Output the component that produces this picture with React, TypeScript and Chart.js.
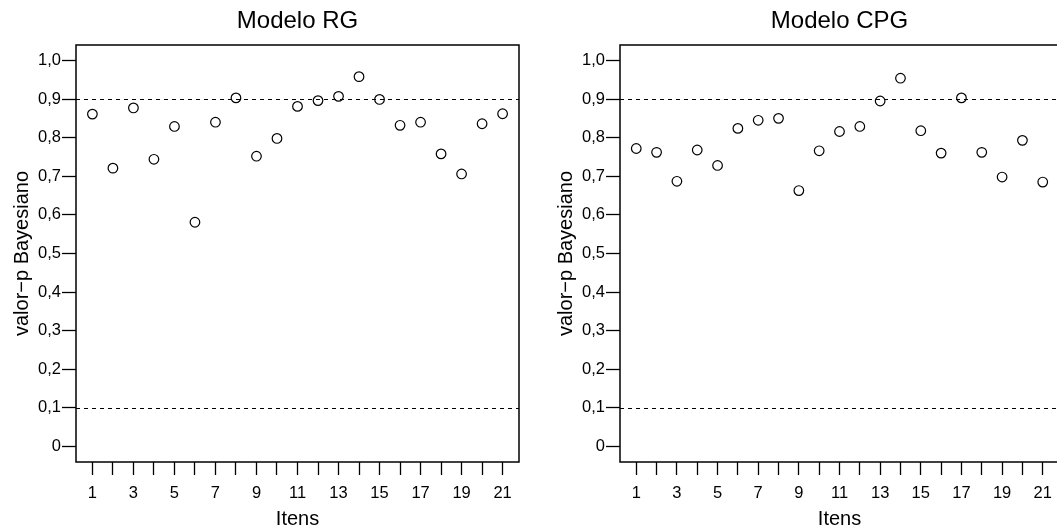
import { useEffect, useRef } from "react";
import { Chart, registerables } from "chart.js";

Chart.register(...registerables);

// Item numbers on the horizontal axis
const itens = [1, 2, 3, 4, 5, 6, 7, 8, 9, 10, 11, 12, 13, 14, 15, 16, 17, 18, 19, 20, 21];
const xTickLabels = ["1", "", "3", "", "5", "", "7", "", "9", "", "11", "", "13", "", "15", "", "17", "", "19", "", "21"];

// Vertical axis ticks (decimal comma)
const yTicks = [0, 0.1, 0.2, 0.3, 0.4, 0.5, 0.6, 0.7, 0.8, 0.9, 1.0];
const yTickLabels = ["0", "0,1", "0,2", "0,3", "0,4", "0,5", "0,6", "0,7", "0,8", "0,9", "1,0"];

// Bayesian p-values per item
const valoresRG = [0.861, 0.721, 0.877, 0.744, 0.829, 0.581, 0.840, 0.903, 0.752, 0.798, 0.881,
  0.896, 0.907, 0.958, 0.899, 0.832, 0.840, 0.758, 0.706, 0.836, 0.862];
const valoresCPG = [0.772, 0.762, 0.687, 0.768, 0.728, 0.824, 0.845, 0.850, 0.663, 0.766, 0.816,
  0.829, 0.895, 0.954, 0.818, 0.760, 0.903, 0.762, 0.698, 0.793, 0.685];

// Reference levels drawn as dashed lines
const limiares = [0.1, 0.9];

const titulos = ["Modelo RG", "Modelo CPG"];
const tituloX = "Itens";
const tituloY = "valor\u2212p Bayesiano";

const FONT = "'Liberation Sans', Arial, Helvetica, sans-serif";

// Frame, dashed reference lines and panel title
const moldura = {
  id: "moldura",
  beforeDatasetsDraw(chart: any) {
    const { ctx, chartArea: a, scales } = chart;
    const y = scales.y;
    ctx.save();
    ctx.beginPath();
    ctx.rect(a.left, a.top, a.right - a.left, a.bottom - a.top);
    ctx.clip();
    ctx.setLineDash([4, 4]);
    ctx.lineWidth = 1;
    ctx.strokeStyle = "#000";
    for (const v of limiares) {
      const py = Math.round(y.getPixelForValue(v)) + 0.5;
      ctx.beginPath();
      ctx.moveTo(a.left, py);
      ctx.lineTo(a.right, py);
      ctx.stroke();
    }
    ctx.restore();
  },
  afterDraw(chart: any, _args: any, opts: any) {
    const { ctx, chartArea: a } = chart;
    ctx.save();
    ctx.lineWidth = 1.5;
    ctx.strokeStyle = "#000";
    ctx.strokeRect(a.left, a.top, a.right - a.left, a.bottom - a.top);
    ctx.fillStyle = "#000";
    ctx.font = `24px ${FONT}`;
    ctx.textAlign = "center";
    ctx.textBaseline = "alphabetic";
    ctx.fillText(opts.titulo, (a.left + a.right) / 2, 28);
    ctx.restore();
  },
};

function Painel({ valores, titulo, left, padRight }: { valores: number[]; titulo: string; left: number; padRight: number }) {
  const ref = useRef<HTMLCanvasElement | null>(null);
  useEffect(() => {
    if (!ref.current) return;
    const chart = new Chart(ref.current, {
      type: "scatter",
      data: {
        datasets: [
          {
            data: valores.map((v, i) => ({ x: itens[i], y: v })),
            pointStyle: "circle",
            pointRadius: 4.8,
            pointHoverRadius: 4.8,
            borderWidth: 1.2,
            borderColor: "#000",
            backgroundColor: "rgba(255,255,255,0)",
          },
        ],
      },
      options: {
        responsive: false,
        animation: false,
        events: [],
        color: "#000",
        layout: { padding: { top: 45, left: 0, bottom: 0, right: padRight } },
        plugins: {
          legend: { display: false },
          tooltip: { enabled: false },
          // @ts-ignore
          moldura: { titulo },
        },
        scales: {
          x: {
            type: "linear",
            min: 0.2,
            max: 21.8,
            afterFit: (s: any) => { s.height = 70; },
            afterBuildTicks: (s: any) => { s.ticks = itens.map((v) => ({ value: v })); },
            grid: { drawOnChartArea: false, drawTicks: true, tickLength: 13, tickColor: "#000", tickWidth: 1.3 },
            border: { display: false },
            ticks: {
              autoSkip: false,
              maxRotation: 0,
              padding: 9,
              color: "#000",
              font: { family: FONT, size: 16.5 },
              callback: (_v: any, i: number) => xTickLabels[i],
            },
            title: { display: true, text: tituloX, color: "#000", font: { family: FONT, size: 20 }, padding: { top: 0, bottom: 1 } },
          },
          y: {
            type: "linear",
            min: -0.04,
            max: 1.04,
            afterFit: (s: any) => { s.width = 76; },
            afterBuildTicks: (s: any) => { s.ticks = yTicks.map((v) => ({ value: v })); },
            grid: { drawOnChartArea: false, drawTicks: true, tickLength: 14, tickColor: "#000", tickWidth: 1.3 },
            border: { display: false },
            ticks: {
              padding: 1,
              color: "#000",
              font: { family: FONT, size: 16.5 },
              callback: (_v: any, i: number) => yTickLabels[i],
            },
            title: { display: true, text: tituloY, color: "#000", font: { family: FONT, size: 20 }, padding: { top: 10, bottom: 0 } },
          },
        },
      },
      plugins: [moldura],
    });
    return () => chart.destroy();
  }, [valores, titulo, padRight]);
  return (
    <canvas
      ref={ref}
      width={560}
      height={532}
      style={{ position: "absolute", left, top: 0, width: 560, height: 532, display: "block" }}
    />
  );
}

export default function App() {
  return (
    <div style={{ position: "fixed", left: 0, top: 0, width: 1057, height: 532, overflow: "hidden", background: "#fff" }}>
      <Painel valores={valoresRG} titulo={titulos[0]} left={0} padRight={41} />
      <Painel valores={valoresCPG} titulo={titulos[1]} left={544} padRight={45} />
    </div>
  );
}
